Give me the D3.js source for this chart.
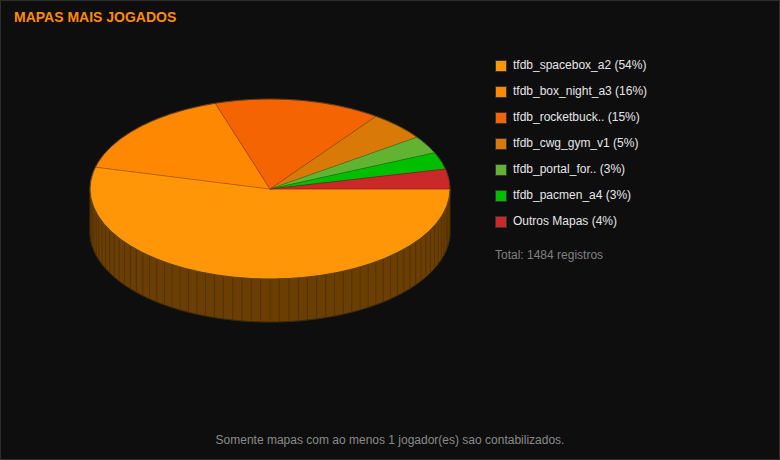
<!DOCTYPE html>
<html>
<head>
<meta charset="utf-8">
<script src="https://cdnjs.cloudflare.com/ajax/libs/d3/7.8.5/d3.min.js"></script>
<style>
  html, body { margin: 0; padding: 0; background: #0e0e0e; }
  svg { display: block; font-family: "Liberation Sans", Arial, sans-serif; }
</style>
</head>
<body>
<svg id="chart" width="780" height="460"></svg>
<script>
// data
const mapas = ['tfdb_spacebox_a2', 'tfdb_box_night_a3', 'tfdb_rocketbuck..', 'tfdb_cwg_gym_v1', 'tfdb_portal_for..', 'tfdb_pacmen_a4', 'Outros Mapas'];
const registros = [800, 240, 222, 77, 47, 45, 53];
const cores = ['#ff9608', '#ff8802', '#f46402', '#d97a08', '#63b333', '#00bf00', '#c92929'];

const svg = d3.select('#chart');
const W = 780, H = 460;

// background + frame
svg.append('rect').attr('x', 0.5).attr('y', 0.5).attr('width', W - 1).attr('height', H - 1)
  .attr('fill', '#0e0e0e').attr('stroke', '#2e2e2e');

svg.append('text').attr('x', 14).attr('y', 22)
  .attr('fill', '#ff8c00').attr('font-size', 14).attr('font-weight', 'bold')
  .text('MAPAS MAIS JOGADOS');

const data = mapas.map((m, i) => ({ nome: m, valor: registros[i] }));
const total = d3.sum(registros);
const color = d3.scaleOrdinal().domain(mapas).range(cores);

// pie geometry (ellipse)
const cx = 270, cy = 189, rx = 180, ry = 90, depth = 43;
const pt = (a, dy = 0) => [cx + rx * Math.sin(a), cy - ry * Math.cos(a) + dy];

const pie = d3.pie().value(d => d.valor).sort(null)
  .startAngle(Math.PI / 2).endAngle(Math.PI / 2 + 2 * Math.PI);
const arcs = pie(data);

const g = svg.append('g');

// side wall: only the front half (angles between pi/2 and 3pi/2) is visible
arcs.forEach(d => {
  const a0 = Math.max(d.startAngle, Math.PI / 2);
  const a1 = Math.min(d.endAngle, 3 * Math.PI / 2);
  if (a1 <= a0) return;
  const base = d3.color(color(d.data.nome));
  const side = d3.rgb(base.r * 0.42, base.g * 0.42, base.b * 0.42);
  const n = Math.ceil((a1 - a0) / (Math.PI / 60));
  const step = (a1 - a0) / n;
  const strips = d3.range(n).map(i => [a0 + i * step, a0 + (i + 1) * step]);
  g.selectAll(null).data(strips).enter().append('path')
    .attr('d', s => {
      const p = d3.path();
      const A = pt(s[0]), B = pt(s[1]), C = pt(s[1], depth), D = pt(s[0], depth);
      p.moveTo(A[0], A[1]); p.lineTo(B[0], B[1]); p.lineTo(C[0], C[1]); p.lineTo(D[0], D[1]); p.closePath();
      return p.toString();
    })
    .attr('fill', side)
    .attr('stroke', d3.rgb(side).darker(0.6))
    .attr('stroke-width', 0.6);
});

// outline of the side bottom edge
const edge = d3.path();
d3.range(0, 61).forEach(i => {
  const p = pt(Math.PI / 2 + i * Math.PI / 60, depth);
  i ? edge.lineTo(p[0], p[1]) : edge.moveTo(p[0], p[1]);
});
g.append('path').attr('d', edge.toString()).attr('fill', 'none').attr('stroke', '#3a2a10').attr('stroke-width', 0.8);

// top slices
const slicePath = d => {
  const p = d3.path();
  p.moveTo(cx, cy);
  const n = Math.max(2, Math.ceil((d.endAngle - d.startAngle) / 0.02));
  for (let i = 0; i <= n; i++) {
    const q = pt(d.startAngle + (d.endAngle - d.startAngle) * i / n);
    p.lineTo(q[0], q[1]);
  }
  p.closePath();
  return p.toString();
};

g.selectAll('path.slice').data(arcs).enter().append('path')
  .attr('class', 'slice')
  .attr('d', slicePath)
  .attr('fill', d => color(d.data.nome))
  .attr('stroke', d => d3.color(color(d.data.nome)).darker(1.2))
  .attr('stroke-width', 0.5)
  .attr('stroke-linejoin', 'round');

// rim of top ellipse
g.append('ellipse').attr('cx', cx).attr('cy', cy).attr('rx', rx).attr('ry', ry)
  .attr('fill', 'none').attr('stroke', '#4a3a22').attr('stroke-width', 0.8);

// legend
const y = d3.scaleBand().domain(mapas).range([60, 60 + 26 * mapas.length]);
const leg = svg.selectAll('g.leg').data(data).enter().append('g')
  .attr('class', 'leg')
  .attr('transform', d => `translate(495,${y(d.nome)})`);
leg.append('rect').attr('x', 0.5).attr('y', 0.5).attr('width', 11).attr('height', 11)
  .attr('fill', d => color(d.nome))
  .attr('stroke', '#333').attr('stroke-width', 1);
leg.append('text').attr('x', 18).attr('y', 9)
  .attr('fill', '#e6e6e6').attr('font-size', 12)
  .text(d => `${d.nome} (${Math.round(d.valor / total * 100)}%)`);

svg.append('text').attr('x', 495).attr('y', 259)
  .attr('fill', '#808080').attr('font-size', 12)
  .text(`Total: ${total} registros`);

svg.append('text').attr('x', W / 2).attr('y', 444)
  .attr('text-anchor', 'middle')
  .attr('fill', '#8a8a8a').attr('font-size', 12)
  .text('Somente mapas com ao menos 1 jogador(es) sao contabilizados.');
</script>
</body>
</html>
